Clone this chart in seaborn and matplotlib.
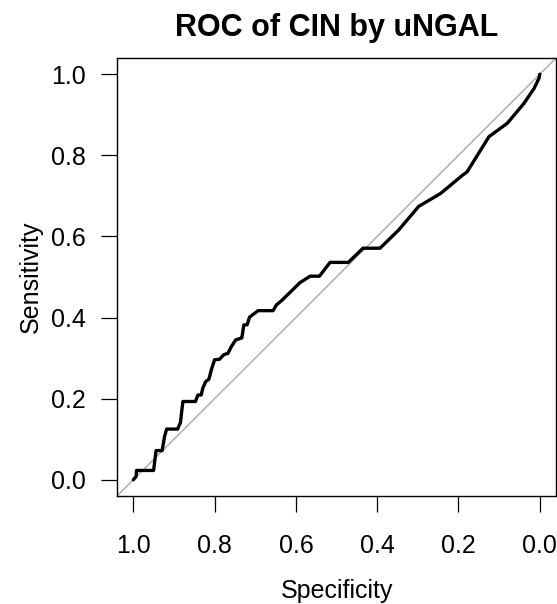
import numpy as np
import pandas as pd
import matplotlib
matplotlib.use('Agg')
import matplotlib.pyplot as plt
import seaborn as sns

# =============================================================================
# DATA
# =============================================================================
specificity = [1.000, 0.993, 0.992, 0.950, 0.944, 0.929, 0.923, 0.918, 0.891,
               0.884, 0.878, 0.847, 0.841, 0.833, 0.829, 0.822, 0.814, 0.808,
               0.800, 0.788, 0.778, 0.767, 0.759, 0.748, 0.735, 0.733, 0.728,
               0.720, 0.714, 0.693, 0.656, 0.648, 0.635, 0.590, 0.565, 0.542,
               0.516, 0.471, 0.435, 0.393, 0.347, 0.298, 0.244, 0.190, 0.179,
               0.125, 0.080, 0.039, 0.014, 0.002, 0.000]
sensitivity = [0.000, 0.008, 0.023, 0.023, 0.072, 0.072, 0.107, 0.125, 0.125,
               0.141, 0.193, 0.193, 0.209, 0.209, 0.226, 0.242, 0.248, 0.271,
               0.296, 0.297, 0.308, 0.312, 0.328, 0.345, 0.349, 0.350, 0.382,
               0.382, 0.401, 0.417, 0.417, 0.431, 0.442, 0.486, 0.502, 0.502,
               0.536, 0.536, 0.571, 0.571, 0.616, 0.674, 0.706, 0.751, 0.759,
               0.846, 0.879, 0.928, 0.965, 0.990, 1.000]

tick_values = [1.0, 0.8, 0.6, 0.4, 0.2, 0.0]
tick_labels = ['1.0', '0.8', '0.6', '0.4', '0.2', '0.0']

roc_df = pd.DataFrame({'Specificity': specificity, 'Sensitivity': sensitivity})

# =============================================================================
# PLOT
# =============================================================================
sns.set_style('ticks')
plt.rcParams['font.family'] = ['Liberation Sans', 'DejaVu Sans']
plt.rcParams['text.color'] = 'black'
plt.rcParams['axes.labelcolor'] = 'black'

fig = plt.figure(figsize=(5.57, 6.04), dpi=100)
ax = fig.add_axes([0.2101, 0.1788, 0.7882, 0.7252])

# identity line (like pROC's abline)
ax.axline((1, 0), (0, 1), color='#A9A9A9', linewidth=1.0, zorder=1)

sns.lineplot(data=roc_df, x='Specificity', y='Sensitivity', sort=False,
             estimator=None, color='black', linewidth=2.4, ax=ax, zorder=2)

ax.set_xlim(1.04, -0.04)
ax.set_ylim(-0.04, 1.04)

ax.set_xticks(tick_values)
ax.set_xticklabels(tick_labels)
ax.set_yticks(tick_values)
ax.set_yticklabels(tick_labels)

ax.tick_params(axis='both', which='major', direction='out', length=11.5,
               width=0.9, color='black', labelsize=18, labelcolor='black',
               bottom=True, left=True, top=False, right=False)
ax.tick_params(axis='x', pad=15.5)
ax.tick_params(axis='y', pad=11)

for spine in ax.spines.values():
    spine.set_visible(True)
    spine.set_color('black')
    spine.set_linewidth(1.0)

ax.set_xlabel('Specificity', fontsize=18, color='black')
ax.set_ylabel('Sensitivity', fontsize=18, color='black')
ax.xaxis.set_label_coords(0.5, -0.19)
ax.yaxis.set_label_coords(-0.169, 0.5)

ax.set_title('ROC of CIN by uNGAL', fontsize=22, fontweight='bold',
             color='black', pad=15.5)

plt.savefig('out.png', dpi=100)
plt.close()
